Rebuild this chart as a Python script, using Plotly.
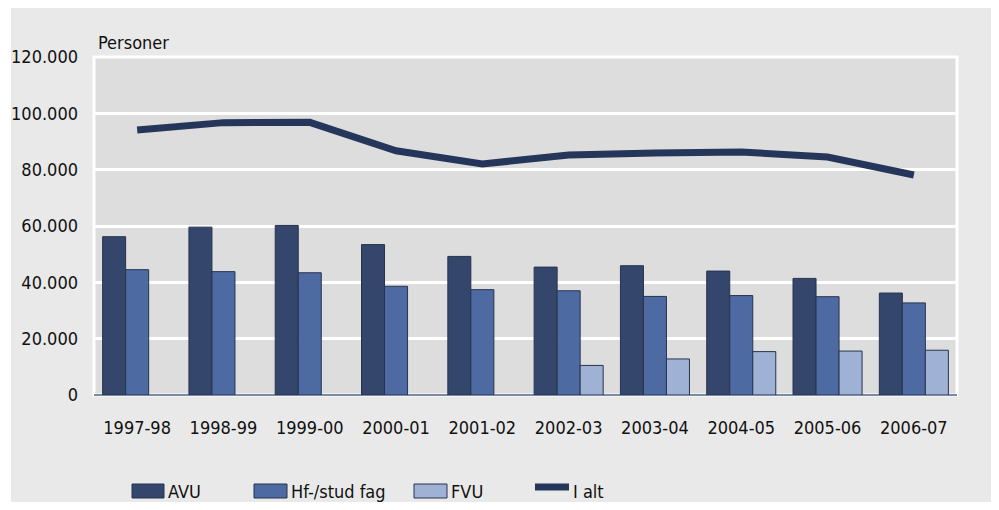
import plotly.graph_objects as go

categories = ["1997-98", "1998-99", "1999-00", "2000-01", "2001-02",
              "2002-03", "2003-04", "2004-05", "2005-06", "2006-07"]
avu = [56200, 59600, 60200, 53400, 49200, 45400, 45900, 44000, 41400, 36200]
hf_stud = [44500, 43800, 43400, 38600, 37400, 37000, 35000, 35300, 34900, 32700]
fvu = [None, None, None, None, None, 10500, 12800, 15400, 15600, 15900]
i_alt = [94100, 96700, 96800, 86700, 82000, 85200, 85900, 86300, 84500, 78100]
y_ticks = [0, 20000, 40000, 60000, 80000, 100000, 120000]

FONT = "DejaVu Sans Condensed, sans-serif"
FS = 18
C_AVU = "#34466b"
C_HF = "#4e6aa2"
C_FVU = "#9fb1d4"
C_LINE = "#25365a"
C_EDGE = "#27334e"

# page offset (body margin) and figure geometry in pixels
OFF = 8
W, H = 999 - 2 * OFF, 510 - 2 * OFF
# plot-area edges expressed in screenshot pixels
SL, SR, ST, SB = 94, 957, 57, 395
L, R, T, B = SL - OFF, SR - OFF, ST - OFF, SB - OFF
pw, ph = R - L, B - T


def px(x):
    """screenshot x -> paper x"""
    return (x - SL) / pw


def py(y):
    """screenshot y -> paper y"""
    return (SB - y) / ph


fig = go.Figure()
fig.add_trace(go.Bar(name="AVU", x=categories, y=avu, marker=dict(color=C_AVU, line=dict(color=C_EDGE, width=1))))
fig.add_trace(go.Bar(name="Hf-/stud fag", x=categories, y=hf_stud, marker=dict(color=C_HF, line=dict(color=C_EDGE, width=1))))
fig.add_trace(go.Bar(name="FVU", x=categories, y=fvu, marker=dict(color=C_FVU, line=dict(color=C_EDGE, width=1))))
fig.add_trace(go.Scatter(name="I alt", x=categories, y=i_alt, mode="lines",
                         line=dict(color=C_LINE, width=7)))

shapes = [
    # outer grey panel
    dict(type="rect", xref="paper", yref="paper", x0=px(11), x1=px(1010), y0=py(520), y1=py(7),
         fillcolor="#e9e9e9", line=dict(width=0), layer="below"),
    # plot area
    dict(type="rect", xref="paper", yref="paper", x0=0, x1=1, y0=0, y1=1,
         fillcolor="#dddddd", line=dict(color="white", width=3), layer="below"),
]

# manual legend
legend_items = [
    ("AVU", C_AVU, 132, 164, "bar"),
    ("Hf-/stud fag", C_HF, 254, 287, "bar"),
    ("FVU", C_FVU, 414, 447, "bar"),
    ("I alt", C_LINE, 535, 569, "line"),
]
annotations = []
for name, col, x0, x1, kind in legend_items:
    if kind == "bar":
        shapes.append(dict(type="rect", xref="paper", yref="paper",
                           x0=px(x0), x1=px(x1), y0=py(498), y1=py(484),
                           fillcolor=col, line=dict(color=C_EDGE, width=1)))
    else:
        shapes.append(dict(type="line", xref="paper", yref="paper",
                           x0=px(x0), x1=px(x1), y0=py(487), y1=py(487),
                           line=dict(color=col, width=7)))
    annotations.append(dict(text=name, xref="paper", yref="paper", x=px(x1 + 2), y=py(491),
                            xanchor="left", yanchor="middle", showarrow=False,
                            font=dict(family=FONT, size=FS, color="#111111")))

annotations.append(dict(text="Personer", xref="paper", yref="paper", x=px(96), y=py(55),
                        xanchor="left", yanchor="bottom", showarrow=False,
                        font=dict(family=FONT, size=FS, color="#111111")))

fig.update_layout(
    width=W, height=H,
    margin=dict(l=L, r=W - R, t=T, b=H - B, pad=0, autoexpand=False),
    paper_bgcolor="white",
    plot_bgcolor="rgba(0,0,0,0)",
    barmode="group",
    bargap=0.2,
    bargroupgap=0,
    showlegend=False,
    separators=",.",
    font=dict(family=FONT, size=FS, color="#111111"),
    shapes=shapes,
    annotations=annotations,
    xaxis=dict(type="category", showgrid=False, ticks="", showline=False,
               tickfont=dict(size=FS), ticklabelstandoff=20, automargin=False),
    yaxis=dict(range=[0, 120000], tickvals=y_ticks, tickformat=",d", showgrid=True,
               gridcolor="white", gridwidth=2.5, zeroline=True, zerolinecolor="#7d8aa3",
               zerolinewidth=2, ticks="", showline=False, tickfont=dict(size=FS),
               ticklabelstandoff=15, automargin=False),
)

fig.write_html("out.html")
